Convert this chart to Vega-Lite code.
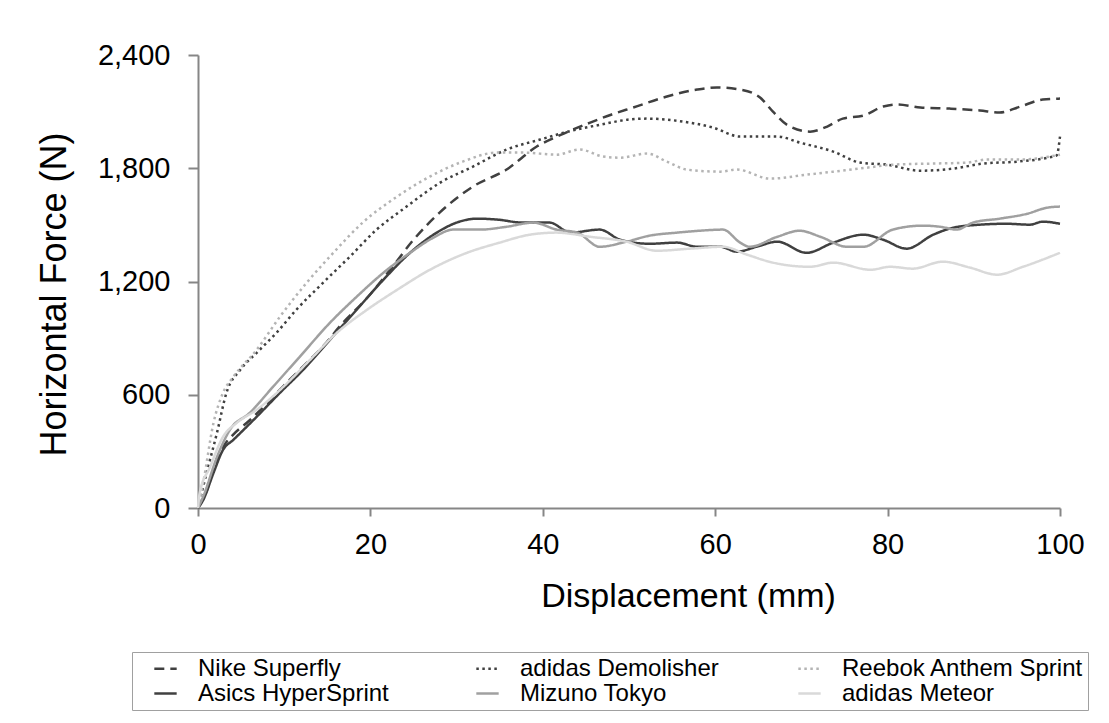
{
  "$schema": "https://vega.github.io/schema/vega-lite/v6.json",
  "width": 862,
  "height": 453,
  "autosize": {"type": "none"},
  "padding": {"left": 198, "top": 55, "right": 49, "bottom": 215},
  "background": "white",
  "config": {
    "font": "Liberation Sans",
    "view": {"stroke": null},
    "axis": {
      "grid": false,
      "domainColor": "#868686",
      "domainWidth": 2,
      "tickColor": "#868686",
      "tickWidth": 2,
      "labelColor": "black",
      "titleColor": "black",
      "labelFont": "Liberation Sans",
      "titleFont": "Liberation Sans",
      "labelFontSize": 29,
      "titleFontSize": 34,
      "titleFontWeight": "normal"
    }
  },
  "datasets": {
    "curves": [
      {"shoe": "Nike Superfly", "x": 0, "y": 0}, {"shoe": "Nike Superfly", "x": 1, "y": 90}, {"shoe": "Nike Superfly", "x": 2, "y": 230}, {"shoe": "Nike Superfly", "x": 3, "y": 330}, {"shoe": "Nike Superfly", "x": 4, "y": 385}, {"shoe": "Nike Superfly", "x": 6, "y": 465}, {"shoe": "Nike Superfly", "x": 8, "y": 555}, {"shoe": "Nike Superfly", "x": 10, "y": 650}, {"shoe": "Nike Superfly", "x": 12.2, "y": 750}, {"shoe": "Nike Superfly", "x": 14.5, "y": 856}, {"shoe": "Nike Superfly", "x": 16.8, "y": 981}, {"shoe": "Nike Superfly", "x": 19.1, "y": 1087}, {"shoe": "Nike Superfly", "x": 22.3, "y": 1262}, {"shoe": "Nike Superfly", "x": 25, "y": 1421}, {"shoe": "Nike Superfly", "x": 28, "y": 1564}, {"shoe": "Nike Superfly", "x": 31.9, "y": 1703}, {"shoe": "Nike Superfly", "x": 35.8, "y": 1793}, {"shoe": "Nike Superfly", "x": 39.3, "y": 1915}, {"shoe": "Nike Superfly", "x": 42, "y": 1975}, {"shoe": "Nike Superfly", "x": 45.5, "y": 2042}, {"shoe": "Nike Superfly", "x": 48, "y": 2085}, {"shoe": "Nike Superfly", "x": 50.5, "y": 2122}, {"shoe": "Nike Superfly", "x": 54.4, "y": 2180}, {"shoe": "Nike Superfly", "x": 57.9, "y": 2217}, {"shoe": "Nike Superfly", "x": 60.2, "y": 2228}, {"shoe": "Nike Superfly", "x": 62.9, "y": 2217}, {"shoe": "Nike Superfly", "x": 65.2, "y": 2175}, {"shoe": "Nike Superfly", "x": 66.7, "y": 2100}, {"shoe": "Nike Superfly", "x": 68.3, "y": 2031}, {"shoe": "Nike Superfly", "x": 71, "y": 1994}, {"shoe": "Nike Superfly", "x": 73, "y": 2021}, {"shoe": "Nike Superfly", "x": 74.8, "y": 2063}, {"shoe": "Nike Superfly", "x": 77.2, "y": 2079}, {"shoe": "Nike Superfly", "x": 79.5, "y": 2127}, {"shoe": "Nike Superfly", "x": 81.1, "y": 2138}, {"shoe": "Nike Superfly", "x": 83.8, "y": 2122}, {"shoe": "Nike Superfly", "x": 87.2, "y": 2116}, {"shoe": "Nike Superfly", "x": 90.7, "y": 2106}, {"shoe": "Nike Superfly", "x": 93, "y": 2095}, {"shoe": "Nike Superfly", "x": 95.4, "y": 2127}, {"shoe": "Nike Superfly", "x": 98, "y": 2164}, {"shoe": "Nike Superfly", "x": 100, "y": 2169},

      {"shoe": "adidas Demolisher", "x": 0, "y": 0}, {"shoe": "adidas Demolisher", "x": 1, "y": 186}, {"shoe": "adidas Demolisher", "x": 2.2, "y": 398}, {"shoe": "adidas Demolisher", "x": 3.3, "y": 610}, {"shoe": "adidas Demolisher", "x": 4.9, "y": 732}, {"shoe": "adidas Demolisher", "x": 6.8, "y": 822}, {"shoe": "adidas Demolisher", "x": 9.1, "y": 928}, {"shoe": "adidas Demolisher", "x": 11.4, "y": 1050}, {"shoe": "adidas Demolisher", "x": 14.5, "y": 1193}, {"shoe": "adidas Demolisher", "x": 17.6, "y": 1331}, {"shoe": "adidas Demolisher", "x": 20.7, "y": 1474}, {"shoe": "adidas Demolisher", "x": 24.2, "y": 1597}, {"shoe": "adidas Demolisher", "x": 28.1, "y": 1724}, {"shoe": "adidas Demolisher", "x": 31.9, "y": 1809}, {"shoe": "adidas Demolisher", "x": 35.8, "y": 1899}, {"shoe": "adidas Demolisher", "x": 39.7, "y": 1952}, {"shoe": "adidas Demolisher", "x": 43, "y": 1995}, {"shoe": "adidas Demolisher", "x": 46.6, "y": 2030}, {"shoe": "adidas Demolisher", "x": 50, "y": 2058}, {"shoe": "adidas Demolisher", "x": 52.1, "y": 2063}, {"shoe": "adidas Demolisher", "x": 56.3, "y": 2047}, {"shoe": "adidas Demolisher", "x": 59.7, "y": 2016}, {"shoe": "adidas Demolisher", "x": 62.9, "y": 1968}, {"shoe": "adidas Demolisher", "x": 67.2, "y": 1968}, {"shoe": "adidas Demolisher", "x": 69.8, "y": 1936}, {"shoe": "adidas Demolisher", "x": 73.7, "y": 1888}, {"shoe": "adidas Demolisher", "x": 76.8, "y": 1830}, {"shoe": "adidas Demolisher", "x": 79.9, "y": 1819}, {"shoe": "adidas Demolisher", "x": 83.8, "y": 1787}, {"shoe": "adidas Demolisher", "x": 87.6, "y": 1798}, {"shoe": "adidas Demolisher", "x": 91.1, "y": 1825}, {"shoe": "adidas Demolisher", "x": 95, "y": 1835}, {"shoe": "adidas Demolisher", "x": 99.6, "y": 1867}, {"shoe": "adidas Demolisher", "x": 100, "y": 1968},

      {"shoe": "Reebok Anthem Sprint", "x": 0, "y": 0}, {"shoe": "Reebok Anthem Sprint", "x": 0.6, "y": 133}, {"shoe": "Reebok Anthem Sprint", "x": 1.8, "y": 451}, {"shoe": "Reebok Anthem Sprint", "x": 2.9, "y": 610}, {"shoe": "Reebok Anthem Sprint", "x": 4.1, "y": 695}, {"shoe": "Reebok Anthem Sprint", "x": 6.8, "y": 838}, {"shoe": "Reebok Anthem Sprint", "x": 9.5, "y": 1013}, {"shoe": "Reebok Anthem Sprint", "x": 12.6, "y": 1193}, {"shoe": "Reebok Anthem Sprint", "x": 15.7, "y": 1352}, {"shoe": "Reebok Anthem Sprint", "x": 19.1, "y": 1512}, {"shoe": "Reebok Anthem Sprint", "x": 23.1, "y": 1650}, {"shoe": "Reebok Anthem Sprint", "x": 26.9, "y": 1756}, {"shoe": "Reebok Anthem Sprint", "x": 30.7, "y": 1835}, {"shoe": "Reebok Anthem Sprint", "x": 34.7, "y": 1883}, {"shoe": "Reebok Anthem Sprint", "x": 37.7, "y": 1883}, {"shoe": "Reebok Anthem Sprint", "x": 41.6, "y": 1872}, {"shoe": "Reebok Anthem Sprint", "x": 44.3, "y": 1899}, {"shoe": "Reebok Anthem Sprint", "x": 47, "y": 1862}, {"shoe": "Reebok Anthem Sprint", "x": 49, "y": 1856}, {"shoe": "Reebok Anthem Sprint", "x": 52.1, "y": 1878}, {"shoe": "Reebok Anthem Sprint", "x": 54.4, "y": 1835}, {"shoe": "Reebok Anthem Sprint", "x": 56.7, "y": 1793}, {"shoe": "Reebok Anthem Sprint", "x": 60.6, "y": 1782}, {"shoe": "Reebok Anthem Sprint", "x": 62.5, "y": 1793}, {"shoe": "Reebok Anthem Sprint", "x": 66.4, "y": 1745}, {"shoe": "Reebok Anthem Sprint", "x": 70.6, "y": 1766}, {"shoe": "Reebok Anthem Sprint", "x": 73.7, "y": 1782}, {"shoe": "Reebok Anthem Sprint", "x": 77.6, "y": 1803}, {"shoe": "Reebok Anthem Sprint", "x": 80.6, "y": 1819}, {"shoe": "Reebok Anthem Sprint", "x": 85.3, "y": 1825}, {"shoe": "Reebok Anthem Sprint", "x": 89.2, "y": 1830}, {"shoe": "Reebok Anthem Sprint", "x": 91.5, "y": 1846}, {"shoe": "Reebok Anthem Sprint", "x": 95.4, "y": 1846}, {"shoe": "Reebok Anthem Sprint", "x": 100, "y": 1872},

      {"shoe": "Asics HyperSprint", "x": 0, "y": 0}, {"shoe": "Asics HyperSprint", "x": 0.6, "y": 42}, {"shoe": "Asics HyperSprint", "x": 1.8, "y": 186}, {"shoe": "Asics HyperSprint", "x": 2.9, "y": 308}, {"shoe": "Asics HyperSprint", "x": 4.1, "y": 361}, {"shoe": "Asics HyperSprint", "x": 6.8, "y": 483}, {"shoe": "Asics HyperSprint", "x": 9.5, "y": 610}, {"shoe": "Asics HyperSprint", "x": 12.2, "y": 732}, {"shoe": "Asics HyperSprint", "x": 15.3, "y": 891}, {"shoe": "Asics HyperSprint", "x": 18.4, "y": 1050}, {"shoe": "Asics HyperSprint", "x": 21.5, "y": 1209}, {"shoe": "Asics HyperSprint", "x": 24.6, "y": 1352}, {"shoe": "Asics HyperSprint", "x": 27.7, "y": 1459}, {"shoe": "Asics HyperSprint", "x": 30, "y": 1512}, {"shoe": "Asics HyperSprint", "x": 32.4, "y": 1533}, {"shoe": "Asics HyperSprint", "x": 34.7, "y": 1528}, {"shoe": "Asics HyperSprint", "x": 37.7, "y": 1512}, {"shoe": "Asics HyperSprint", "x": 40.8, "y": 1512}, {"shoe": "Asics HyperSprint", "x": 43.2, "y": 1459}, {"shoe": "Asics HyperSprint", "x": 46.6, "y": 1475}, {"shoe": "Asics HyperSprint", "x": 49, "y": 1421}, {"shoe": "Asics HyperSprint", "x": 52.4, "y": 1400}, {"shoe": "Asics HyperSprint", "x": 55.6, "y": 1406}, {"shoe": "Asics HyperSprint", "x": 57.9, "y": 1384}, {"shoe": "Asics HyperSprint", "x": 60.6, "y": 1384}, {"shoe": "Asics HyperSprint", "x": 62.5, "y": 1358}, {"shoe": "Asics HyperSprint", "x": 64.8, "y": 1384}, {"shoe": "Asics HyperSprint", "x": 67.2, "y": 1411}, {"shoe": "Asics HyperSprint", "x": 70.6, "y": 1352}, {"shoe": "Asics HyperSprint", "x": 73.7, "y": 1406}, {"shoe": "Asics HyperSprint", "x": 77.2, "y": 1448}, {"shoe": "Asics HyperSprint", "x": 79.5, "y": 1421}, {"shoe": "Asics HyperSprint", "x": 82.2, "y": 1374}, {"shoe": "Asics HyperSprint", "x": 85.3, "y": 1448}, {"shoe": "Asics HyperSprint", "x": 87.6, "y": 1485}, {"shoe": "Asics HyperSprint", "x": 90.7, "y": 1501}, {"shoe": "Asics HyperSprint", "x": 93.8, "y": 1506}, {"shoe": "Asics HyperSprint", "x": 96.5, "y": 1501}, {"shoe": "Asics HyperSprint", "x": 98, "y": 1517}, {"shoe": "Asics HyperSprint", "x": 100, "y": 1506},

      {"shoe": "Mizuno Tokyo", "x": 0, "y": 0}, {"shoe": "Mizuno Tokyo", "x": 0.6, "y": 60}, {"shoe": "Mizuno Tokyo", "x": 2.2, "y": 270}, {"shoe": "Mizuno Tokyo", "x": 3.7, "y": 414}, {"shoe": "Mizuno Tokyo", "x": 6, "y": 504}, {"shoe": "Mizuno Tokyo", "x": 8.7, "y": 642}, {"shoe": "Mizuno Tokyo", "x": 11.8, "y": 801}, {"shoe": "Mizuno Tokyo", "x": 15.3, "y": 981}, {"shoe": "Mizuno Tokyo", "x": 18.4, "y": 1119}, {"shoe": "Mizuno Tokyo", "x": 21.5, "y": 1246}, {"shoe": "Mizuno Tokyo", "x": 24.6, "y": 1352}, {"shoe": "Mizuno Tokyo", "x": 27.3, "y": 1432}, {"shoe": "Mizuno Tokyo", "x": 29.6, "y": 1475}, {"shoe": "Mizuno Tokyo", "x": 32.7, "y": 1475}, {"shoe": "Mizuno Tokyo", "x": 35.8, "y": 1490}, {"shoe": "Mizuno Tokyo", "x": 38.9, "y": 1512}, {"shoe": "Mizuno Tokyo", "x": 41.6, "y": 1475}, {"shoe": "Mizuno Tokyo", "x": 44, "y": 1459}, {"shoe": "Mizuno Tokyo", "x": 46.6, "y": 1384}, {"shoe": "Mizuno Tokyo", "x": 49.7, "y": 1411}, {"shoe": "Mizuno Tokyo", "x": 52.4, "y": 1443}, {"shoe": "Mizuno Tokyo", "x": 55.6, "y": 1459}, {"shoe": "Mizuno Tokyo", "x": 58.2, "y": 1469}, {"shoe": "Mizuno Tokyo", "x": 60.9, "y": 1475}, {"shoe": "Mizuno Tokyo", "x": 62.9, "y": 1406}, {"shoe": "Mizuno Tokyo", "x": 64, "y": 1384}, {"shoe": "Mizuno Tokyo", "x": 67.2, "y": 1437}, {"shoe": "Mizuno Tokyo", "x": 69.8, "y": 1469}, {"shoe": "Mizuno Tokyo", "x": 72.2, "y": 1437}, {"shoe": "Mizuno Tokyo", "x": 75.3, "y": 1384}, {"shoe": "Mizuno Tokyo", "x": 77.2, "y": 1384}, {"shoe": "Mizuno Tokyo", "x": 80.6, "y": 1475}, {"shoe": "Mizuno Tokyo", "x": 84.1, "y": 1496}, {"shoe": "Mizuno Tokyo", "x": 86.1, "y": 1490}, {"shoe": "Mizuno Tokyo", "x": 88, "y": 1475}, {"shoe": "Mizuno Tokyo", "x": 89.9, "y": 1512}, {"shoe": "Mizuno Tokyo", "x": 93, "y": 1533}, {"shoe": "Mizuno Tokyo", "x": 96.2, "y": 1559}, {"shoe": "Mizuno Tokyo", "x": 98.5, "y": 1591}, {"shoe": "Mizuno Tokyo", "x": 100, "y": 1597},

      {"shoe": "adidas Meteor", "x": 0, "y": 0}, {"shoe": "adidas Meteor", "x": 0.2, "y": 80}, {"shoe": "adidas Meteor", "x": 1.4, "y": 217}, {"shoe": "adidas Meteor", "x": 2.9, "y": 377}, {"shoe": "adidas Meteor", "x": 4.5, "y": 451}, {"shoe": "adidas Meteor", "x": 6.8, "y": 520}, {"shoe": "adidas Meteor", "x": 9.9, "y": 642}, {"shoe": "adidas Meteor", "x": 13, "y": 785}, {"shoe": "adidas Meteor", "x": 16.1, "y": 928}, {"shoe": "adidas Meteor", "x": 19.6, "y": 1050}, {"shoe": "adidas Meteor", "x": 23.1, "y": 1156}, {"shoe": "adidas Meteor", "x": 26.9, "y": 1262}, {"shoe": "adidas Meteor", "x": 31.2, "y": 1352}, {"shoe": "adidas Meteor", "x": 35, "y": 1406}, {"shoe": "adidas Meteor", "x": 38.5, "y": 1448}, {"shoe": "adidas Meteor", "x": 41.6, "y": 1459}, {"shoe": "adidas Meteor", "x": 45.5, "y": 1437}, {"shoe": "adidas Meteor", "x": 49.7, "y": 1411}, {"shoe": "adidas Meteor", "x": 53.2, "y": 1363}, {"shoe": "adidas Meteor", "x": 57.1, "y": 1374}, {"shoe": "adidas Meteor", "x": 60.9, "y": 1384}, {"shoe": "adidas Meteor", "x": 63.7, "y": 1342}, {"shoe": "adidas Meteor", "x": 66.7, "y": 1300}, {"shoe": "adidas Meteor", "x": 71, "y": 1278}, {"shoe": "adidas Meteor", "x": 73.7, "y": 1300}, {"shoe": "adidas Meteor", "x": 78, "y": 1262}, {"shoe": "adidas Meteor", "x": 80.3, "y": 1278}, {"shoe": "adidas Meteor", "x": 82.9, "y": 1268}, {"shoe": "adidas Meteor", "x": 86.4, "y": 1305}, {"shoe": "adidas Meteor", "x": 89.6, "y": 1273}, {"shoe": "adidas Meteor", "x": 92.7, "y": 1236}, {"shoe": "adidas Meteor", "x": 95.7, "y": 1278}, {"shoe": "adidas Meteor", "x": 100, "y": 1352}
    ]
  },
  "data": {"name": "curves"},
  "mark": {"type": "line", "interpolate": "monotone", "strokeWidth": 2.5},
  "encoding": {
    "x": {
      "field": "x", "type": "quantitative",
      "scale": {"domain": [0, 100], "nice": false},
      "axis": {"title": "Displacement (mm)", "values": [0, 20, 40, 60, 80, 100], "tickSize": 8, "labelPadding": 14, "titlePadding": 20, "titleX": 490, "labelFlush": false}
    },
    "y": {
      "field": "y", "type": "quantitative",
      "scale": {"domain": [0, 2400], "nice": false},
      "axis": {"title": "Horizontal Force (N)", "values": [0, 600, 1200, 1800, 2400], "format": ",.0f", "tickSize": 10, "labelPadding": 18, "titlePadding": 24, "titleFontSize": 36, "titleY": 239, "labelFlush": false}
    },
    "color": {
      "field": "shoe", "type": "nominal", "title": null,
      "sort": ["Nike Superfly", "adidas Demolisher", "Reebok Anthem Sprint", "Asics HyperSprint", "Mizuno Tokyo", "adidas Meteor"],
      "scale": {
        "domain": ["Nike Superfly", "adidas Demolisher", "Reebok Anthem Sprint", "Asics HyperSprint", "Mizuno Tokyo", "adidas Meteor"],
        "range": ["#404040", "#404040", "#b4b4b4", "#404040", "#a0a0a0", "#d9d9d9"]
      },
      "legend": {
        "orient": "none", "legendX": -66, "legendY": 597, "direction": "horizontal", "columns": 3,
        "gridAlign": "all", "columnPadding": 18, "rowPadding": 0,
        "strokeColor": "#a0a0a0", "padding": 4,
        "symbolType": "stroke", "symbolSize": 500, "symbolStrokeWidth": 2.5, "symbolOffset": 17,
        "labelFontSize": 24, "labelColor": "black", "labelOffset": 20, "labelFont": "Liberation Sans", "labelLimit": 400
      }
    },
    "strokeDash": {
      "field": "shoe", "type": "nominal", "title": null,
      "sort": ["Nike Superfly", "adidas Demolisher", "Reebok Anthem Sprint", "Asics HyperSprint", "Mizuno Tokyo", "adidas Meteor"],
      "scale": {
        "domain": ["Nike Superfly", "adidas Demolisher", "Reebok Anthem Sprint", "Asics HyperSprint", "Mizuno Tokyo", "adidas Meteor"],
        "range": [[10, 6], [2.5, 3.5], [2.5, 3.5], [1, 0], [1, 0], [1, 0]]
      }
    }
  }
}
